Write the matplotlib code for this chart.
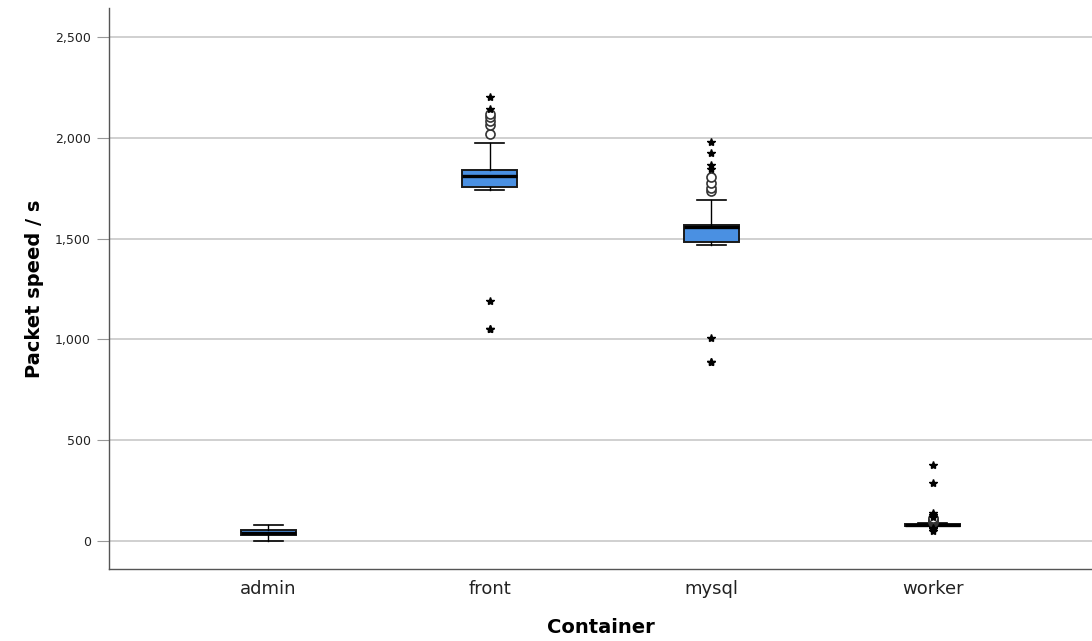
import matplotlib
matplotlib.use("Agg")
import matplotlib.pyplot as plt

categories = ["admin", "front", "mysql", "worker"]
whislo = [2, 1742, 1468, 72]
q1 = [30, 1755, 1483, 76]
med = [42, 1810, 1557, 80]
q3 = [55, 1840, 1567, 84]
whishi = [79, 1972, 1691, 90]

# outliers (circles) and extremes (stars)
circle_out = [[], [2020, 2063, 2083, 2103, 2120], [1736, 1751, 1776, 1805], [95, 100, 105, 110, 115]]
star_out = [[], [1052, 1050, 1190, 2143, 2205], [888, 886, 1007, 1845, 1865, 1924, 1979],
            [50, 60, 65, 120, 130, 140, 288, 377]]

box_color = "#4a90e2"

fig = plt.figure(figsize=(10.92, 6.41), dpi=100)
ax = fig.add_axes([0.0998, 0.1123, 0.9002, 0.8752])

stats = []
for i, c in enumerate(categories):
    stats.append(dict(label=c, whislo=whislo[i], q1=q1[i], med=med[i], q3=q3[i],
                      whishi=whishi[i], fliers=[]))

positions = list(range(len(categories)))
ax.bxp(stats, positions=positions, widths=0.25, patch_artist=True, showfliers=False,
       boxprops=dict(facecolor=box_color, edgecolor="#1a1a1a", linewidth=1.4),
       medianprops=dict(color="black", linewidth=2.4),
       whiskerprops=dict(color="black", linewidth=1),
       capprops=dict(color="black", linewidth=1.2),
       capwidths=0.13, zorder=3)

for i in positions:
    if circle_out[i]:
        ax.plot([i] * len(circle_out[i]), circle_out[i], linestyle="none", marker="o",
                markersize=6.5, markerfacecolor="white", markeredgecolor="#333333",
                markeredgewidth=1.2, zorder=4)
    if star_out[i]:
        ax.plot([i] * len(star_out[i]), star_out[i], linestyle="none", marker="*",
                markersize=6, color="black", zorder=5)

ax.set_xlim(-0.72, 3.72)
ax.set_ylim(-139, 2644)
yt = [0, 500, 1000, 1500, 2000, 2500]
ax.set_yticks(yt)
ax.set_yticklabels([f"{v:,}" for v in yt], fontsize=9, color="#222222")
ax.set_xticks(positions)
ax.set_xticklabels(categories, fontsize=13, color="#222222")
ax.tick_params(axis="x", length=0, pad=8)
ax.tick_params(axis="y", length=9, color="#999999", pad=4)
ax.yaxis.grid(True, color="#c8c8c8", linewidth=1.2)
ax.set_axisbelow(True)
for s in ["top", "right"]:
    ax.spines[s].set_visible(False)
for s in ["left", "bottom"]:
    ax.spines[s].set_color("#555555")
    ax.spines[s].set_linewidth(1)

ax.set_ylabel("Packet speed / s", fontsize=14, fontweight="bold", labelpad=8)
ax.set_xlabel("Container", fontsize=14, fontweight="bold", labelpad=14)

fig.savefig("out.png", dpi=100)
